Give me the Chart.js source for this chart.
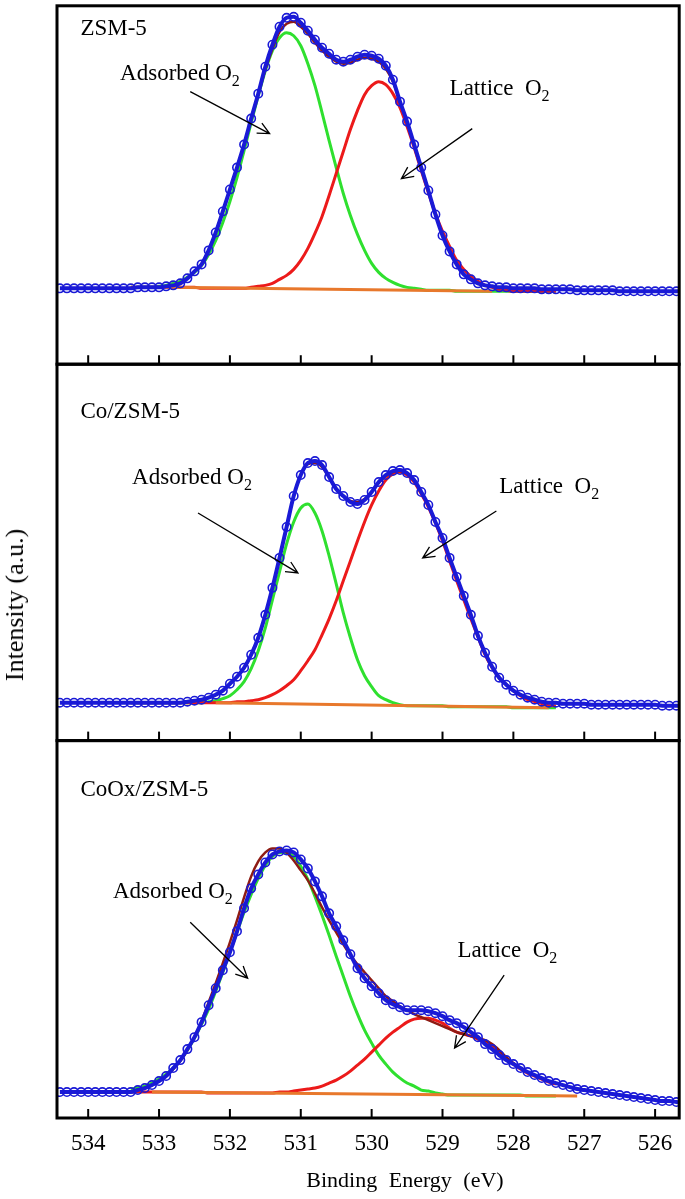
<!DOCTYPE html>
<html>
<head>
<meta charset="utf-8">
<title>O 1s XPS spectra</title>
<script src="https://cdn.jsdelivr.net/npm/chart.js@4.4.1/dist/chart.umd.min.js"></script>
<style>
  html, body { margin: 0; padding: 0; background: #fff; }
  #wrap { position: relative; width: 685px; height: 1199px; }
  #yTitle {
    position: absolute; left: 15px; top: 605px;
    transform: translate(-50%, -50%) rotate(-90deg);
    font: 26px "Liberation Serif", serif; color: #000; white-space: nowrap;
  }
  #xTitle {
    position: absolute; left: 405px; top: 1180px;
    transform: translate(-50%, -50%);
    font: 22px "Liberation Serif", serif; color: #000; white-space: nowrap; word-spacing: 6px;
  }
</style>
</head>
<body>
<div id="wrap">
  <canvas id="chartXps" width="685" height="1199"></canvas>
  <div id="yTitle">Intensity (a.u.)</div>
  <div id="xTitle">Binding Energy (eV)</div>
</div>
<script>
// binding energy grid of the measured points (eV)
const energy = [
  534.4, 534.3, 534.2, 534.1, 534.0, 533.9, 533.8, 533.7, 533.6, 533.5,
  533.4, 533.3, 533.2, 533.1, 533.0, 532.9, 532.8, 532.7, 532.6, 532.5,
  532.4, 532.3, 532.2, 532.1, 532.0, 531.9, 531.8, 531.7, 531.6, 531.5,
  531.4, 531.3, 531.2, 531.1, 531.0, 530.9, 530.8, 530.7, 530.6, 530.5,
  530.4, 530.3, 530.2, 530.1, 530.0, 529.9, 529.8, 529.7, 529.6, 529.5,
  529.4, 529.3, 529.2, 529.1, 529.0, 528.9, 528.8, 528.7, 528.6, 528.5,
  528.4, 528.3, 528.2, 528.1, 528.0, 527.9, 527.8, 527.7, 527.6, 527.5,
  527.4, 527.3, 527.2, 527.1, 527.0, 526.9, 526.8, 526.7, 526.6, 526.5,
  526.4, 526.3, 526.2, 526.1, 526.0, 525.9, 525.8, 525.7, 525.6
];
// grid of the fitted curves (eV)
const fitEnergy = [
  533.4, 533.3, 533.2, 533.1, 533.0, 532.9, 532.8, 532.7, 532.6, 532.5,
  532.4, 532.3, 532.2, 532.1, 532.0, 531.9, 531.8, 531.7, 531.6, 531.5,
  531.4, 531.3, 531.2, 531.1, 531.0, 530.9, 530.8, 530.7, 530.6, 530.5,
  530.4, 530.3, 530.2, 530.1, 530.0, 529.9, 529.8, 529.7, 529.6, 529.5,
  529.4, 529.3, 529.2, 529.1, 529.0, 528.9, 528.8, 528.7, 528.6, 528.5,
  528.4, 528.3, 528.2, 528.1, 528.0, 527.9, 527.8, 527.7, 527.6, 527.5,
  527.4
];
const tickEnergies = [534, 533, 532, 531, 530, 529, 528, 527, 526];

// ZSM-5
const zsmData = [
  76, 76, 76, 76, 76, 76, 76, 76, 76, 76,
  76, 77, 77, 77, 77, 78, 79, 81, 86, 93,
  100, 114, 132, 153, 175, 197, 220, 246, 271, 298,
  320, 338, 347, 348, 342, 334, 325, 317, 311, 305,
  303, 305, 308, 310, 309, 306, 299, 285, 263, 243,
  220, 197, 174, 150, 129, 113, 100, 90, 85, 81,
  79, 78, 77, 77, 76, 76, 76, 76, 75, 75,
  75, 75, 75, 74, 74, 74, 74, 74, 74, 73,
  73, 73, 73, 73, 73, 73, 73, 73, 73
];
const zsmFit = [
  76, 77, 77, 77, 77, 78, 79, 81, 86, 93,
  100, 114, 132, 153, 175, 197, 220, 245, 270, 295,
  316, 333, 341, 343, 338, 331, 322, 314, 308, 303,
  301, 302, 305, 307, 306, 303, 296, 283, 263, 243,
  220, 197, 174, 150, 129, 113, 100, 90, 85, 81,
  79, 78, 77, 77, 76, 76, 76, 76, 75, 75,
  75
];
const zsmAdsorbed = [
  77, 77, 77, 77, 78, 79, 81, 83, 87, 92,
  99, 110, 124, 142, 163, 187, 214, 242, 269, 294,
  314, 327, 332, 329, 319, 301, 279, 252, 224, 197,
  171, 149, 130, 114, 101, 92, 86, 82, 79, 77,
  76, 75, 74, 74, 74, 74, 73, 73, 73, 73,
  73, 73, 73, 73, 73, 73, 73, 73, 73, 73,
  73
];
const zsmLattice = [
  77, 77, 77, 77, 77, 77, 77, 77, 77, 77,
  76, 76, 76, 76, 76, 76, 76, 77, 78, 79,
  81, 85, 89, 95, 104, 116, 131, 148, 169, 191,
  213, 235, 254, 270, 279, 283, 280, 271, 257, 238,
  217, 194, 172, 151, 133, 118, 104, 95, 88, 83,
  79, 77, 75, 74, 73, 73, 73, 73, 73, 73,
  73
];
const zsmBgEnergy = [532.9, 528.3];
const zsmBackground = [77, 73];

// Co/ZSM-5
const coData = [
  38, 38, 38, 38, 38, 38, 38, 38, 38, 38,
  38, 38, 38, 38, 38, 38, 38, 38, 39, 40,
  41, 43, 46, 50, 57, 64, 73, 86, 103, 126,
  153, 183, 214, 245, 266, 278, 280, 276, 264, 252,
  245, 239, 237, 241, 249, 259, 266, 270, 271, 268,
  261, 249, 236, 219, 203, 183, 164, 145, 126, 105,
  88, 74, 63, 56, 50, 46, 43, 41, 39, 38,
  38, 37, 37, 37, 37, 36, 36, 36, 36, 36,
  36, 36, 36, 36, 36, 35, 35, 35, 35
];
const coFit = [
  38, 38, 38, 38, 38, 38, 38, 38, 39, 40,
  41, 43, 46, 50, 57, 64, 73, 86, 103, 126,
  153, 183, 214, 245, 266, 277, 278, 274, 264, 252,
  245, 240, 239, 242, 249, 258, 265, 269, 270, 267,
  261, 249, 236, 219, 203, 183, 164, 145, 126, 105,
  88, 74, 63, 56, 50, 46, 43, 41, 39, 38,
  38
];
const coAdsorbed = [
  38, 38, 38, 38, 38, 38, 38, 38, 38, 38,
  38, 39, 40, 42, 45, 51, 59, 72, 90, 113,
  141, 169, 197, 219, 233, 237, 228, 210, 185, 157,
  128, 103, 81, 65, 54, 45, 41, 38, 36, 35,
  35, 35, 35, 35, 35, 34, 34, 34, 34, 34,
  34, 34, 34, 34, 33, 33, 33, 33, 33, 33,
  33
];
const coLattice = [
  38, 38, 38, 38, 38, 38, 38, 38, 38, 38,
  38, 38, 38, 38, 38, 39, 39, 40, 41, 43,
  46, 50, 55, 61, 70, 80, 91, 106, 122, 140,
  160, 180, 200, 219, 236, 250, 261, 267, 269, 266,
  259, 247, 234, 218, 200, 180, 160, 141, 122, 104,
  86, 73, 63, 56, 50, 45, 41, 39, 37, 35,
  35
];
const coBgEnergy = [532.2, 527.5];
const coBackground = [38, 33];

// CoOx/ZSM-5
const coxData = [
  26, 26, 26, 26, 26, 26, 26, 26, 26, 26,
  26, 28, 30, 33, 37, 42, 50, 58, 69, 81,
  96, 113, 130, 148, 166, 187, 210, 230, 244, 256,
  264, 267, 268, 266, 259, 250, 237, 222, 205, 192,
  178, 164, 150, 140, 132, 125, 118, 114, 111, 108,
  108, 108, 107, 105, 102, 98, 95, 91, 86, 81,
  74, 69, 63, 58, 54, 50, 46, 43, 40, 37,
  35, 33, 31, 29, 28, 27, 26, 25, 24, 23,
  22, 21, 20, 19, 18, 17, 17, 16, 15
];
const coxFit = [
  26, 28, 30, 33, 37, 42, 49, 57, 68, 81,
  97, 116, 135, 155, 176, 198, 221, 242, 257, 266,
  270, 270, 266, 258, 248, 238, 225, 211, 198, 186,
  174, 163, 154, 146, 138, 130, 122, 117, 112, 108,
  104, 101, 98, 95, 92, 89, 86, 84, 82, 80,
  78, 74, 68, 61, 55, 50, 46, 43, 40, 37,
  35
];
const coxAdsorbed = [
  29, 30, 32, 35, 39, 44, 50, 58, 68, 80,
  94, 109, 127, 146, 166, 186, 206, 224, 240, 253,
  262, 266, 266, 262, 252, 239, 222, 203, 183, 162,
  142, 122, 104, 88, 75, 63, 54, 46, 40, 35,
  32, 28, 27, 25, 24, 23, 23, 23, 23, 23,
  23, 23, 23, 23, 23, 23, 22, 22, 22, 22,
  22
];
const coxLattice = [
  26, 26, 26, 26, 26, 26, 26, 26, 26, 26,
  26, 25, 25, 25, 25, 25, 25, 25, 25, 25,
  25, 26, 26, 27, 28, 29, 30, 32, 35, 38,
  42, 47, 53, 59, 66, 73, 80, 86, 91, 96,
  99, 100, 100, 98, 95, 90, 86, 84, 82, 79,
  76, 71, 65, 59, 54, 49, 45, 42, 39, 36,
  34
];
const coxBgEnergy = [533.1, 527.1];
const coxBackground = [26, 22];

const BLUE = '#1a1ad6';
const FIT = '#8e1b14';
const GREEN = '#2fe02f';
const RED = '#ec1a1a';
const ORANGE = '#e8782c';
const FONT = '"Liberation Serif", "Times New Roman", serif';

const panels = [
  {
    axis: 'y1', max: 359, name: 'ZSM-5',
    data: zsmData, fit: zsmFit, ads: zsmAdsorbed, lat: zsmLattice, bgE: zsmBgEnergy, bg: zsmBackground,
    nameAt: [534.11, 330],
    notes: [
      { text: 'Adsorbed O', at: [533.55, 285], from: [532.56, 273], to: [531.44, 231] },
      { text: 'Lattice  O', at: [528.90, 270], from: [528.58, 236], to: [529.58, 186] }
    ]
  },
  {
    axis: 'y2', max: 377, name: 'Co/ZSM-5',
    data: coData, fit: coFit, ads: coAdsorbed, lat: coLattice, bgE: coBgEnergy, bg: coBackground,
    nameAt: [534.11, 323],
    notes: [
      { text: 'Adsorbed O', at: [533.38, 257], from: [532.45, 228], to: [531.04, 168] },
      { text: 'Lattice  O', at: [528.20, 248], from: [528.24, 230], to: [529.28, 183] }
    ]
  },
  {
    axis: 'y3', max: 378, name: 'CoOx/ZSM-5',
    data: coxData, fit: coxFit, ads: coxAdsorbed, lat: coxLattice, bgE: coxBgEnergy, bg: coxBackground,
    nameAt: [534.11, 323],
    notes: [
      { text: 'Adsorbed O', at: [533.65, 220], from: [532.56, 196], to: [531.75, 140] },
      { text: 'Lattice  O', at: [528.79, 161], from: [528.13, 143], to: [528.83, 70] }
    ]
  }
];

function series(xs, ys) {
  return xs.map((x, i) => ({ x: x, y: ys[i] }));
}

const datasets = [];
panels.forEach(p => {
  datasets.push({
    label: p.name, data: series(energy, p.data), yAxisID: p.axis, order: 0,
    borderColor: BLUE, borderWidth: 4, cubicInterpolationMode: 'monotone',
    pointRadius: 4.2, pointBorderWidth: 1.6, pointBorderColor: BLUE,
    pointBackgroundColor: 'rgba(255,255,255,0)'
  });
  datasets.push({
    label: p.name + ' fit', data: series(fitEnergy, p.fit), yAxisID: p.axis, order: 1,
    borderColor: FIT, borderWidth: 2.5, pointRadius: 0, cubicInterpolationMode: 'monotone'
  });
  datasets.push({
    label: p.name + ' background', data: series(p.bgE, p.bg), yAxisID: p.axis, order: 2,
    borderColor: ORANGE, borderWidth: 3, pointRadius: 0
  });
  datasets.push({
    label: p.name + ' lattice O2', data: series(fitEnergy, p.lat), yAxisID: p.axis, order: 3,
    borderColor: RED, borderWidth: 3, pointRadius: 0, cubicInterpolationMode: 'monotone'
  });
  datasets.push({
    label: p.name + ' adsorbed O2', data: series(fitEnergy, p.ads), yAxisID: p.axis, order: 4,
    borderColor: GREEN, borderWidth: 3, pointRadius: 0, cubicInterpolationMode: 'monotone'
  });
});

function labelO2(ctx, text, x, y) {
  ctx.font = '23px ' + FONT;
  ctx.fillText(text, x, y);
  const w = ctx.measureText(text).width;
  ctx.font = '16px ' + FONT;
  ctx.fillText('2', x + w, y + 6);
}

function arrow(ctx, x0, y0, x1, y1) {
  const a = Math.atan2(y1 - y0, x1 - x0);
  ctx.lineWidth = 1.3;
  ctx.beginPath();
  ctx.moveTo(x0, y0);
  ctx.lineTo(x1, y1);
  ctx.moveTo(x1 - 13 * Math.cos(a - 0.45), y1 - 13 * Math.sin(a - 0.45));
  ctx.lineTo(x1, y1);
  ctx.lineTo(x1 - 13 * Math.cos(a + 0.45), y1 - 13 * Math.sin(a + 0.45));
  ctx.stroke();
}

// frames, inward ticks and panel texts
const panelFrames = {
  id: 'panelFrames',
  afterDatasetsDraw(chart) {
    const ctx = chart.ctx;
    const xs = chart.scales.x;
    const area = chart.chartArea;
    ctx.save();
    ctx.strokeStyle = '#000';
    ctx.fillStyle = '#000';
    ctx.textBaseline = 'alphabetic';
    panels.forEach(p => {
      const ys = chart.scales[p.axis];
      ctx.lineWidth = 2;
      tickEnergies.forEach(e => {
        const px = xs.getPixelForValue(e);
        ctx.beginPath();
        ctx.moveTo(px, ys.bottom);
        ctx.lineTo(px, ys.bottom - 9);
        ctx.stroke();
      });
      ctx.lineWidth = 3;
      ctx.strokeRect(area.left, ys.top, area.right - area.left, ys.bottom - ys.top);

      ctx.font = '23px ' + FONT;
      ctx.fillText(p.name, xs.getPixelForValue(p.nameAt[0]), ys.getPixelForValue(p.nameAt[1]));
      p.notes.forEach(n => {
        labelO2(ctx, n.text, xs.getPixelForValue(n.at[0]), ys.getPixelForValue(n.at[1]));
        arrow(ctx,
          xs.getPixelForValue(n.from[0]), ys.getPixelForValue(n.from[1]),
          xs.getPixelForValue(n.to[0]), ys.getPixelForValue(n.to[1]));
      });
    });
    ctx.restore();
  }
};

function yScale(max, weight) {
  return {
    type: 'linear', position: 'left', stack: 'panels', stackWeight: max, weight: weight,
    min: 0, max: max,
    ticks: { display: false }, grid: { display: false, drawTicks: false }, border: { display: false },
    afterFit: s => { s.width = 0; }
  };
}

Chart.defaults.font.family = FONT;
Chart.defaults.color = '#000';

const ctx = document.getElementById('chartXps');
new Chart(ctx, {
  type: 'line',
  data: { datasets: datasets },
  options: {
    responsive: false,
    animation: false,
    devicePixelRatio: 1,
    layout: { padding: { top: 4, left: 57, right: 5, bottom: 0 } },
    plugins: { legend: { display: false }, tooltip: { enabled: false } },
    scales: {
      x: {
        type: 'linear', position: 'bottom', reverse: true, min: 525.66, max: 534.44,
        ticks: {
          stepSize: 1, includeBounds: false, autoSkip: false, maxRotation: 0,
          padding: 12, font: { size: 23 }, color: '#000',
          callback: v => v.toFixed(0)
        },
        grid: { display: false, drawTicks: false },
        border: { display: false },
        title: { display: false },
        afterFit: s => { s.height = 81; }
      },
      y1: yScale(359, 3),
      y2: yScale(377, 2),
      y3: yScale(378, 1)
    }
  },
  plugins: [panelFrames]
});
</script>
</body>
</html>
